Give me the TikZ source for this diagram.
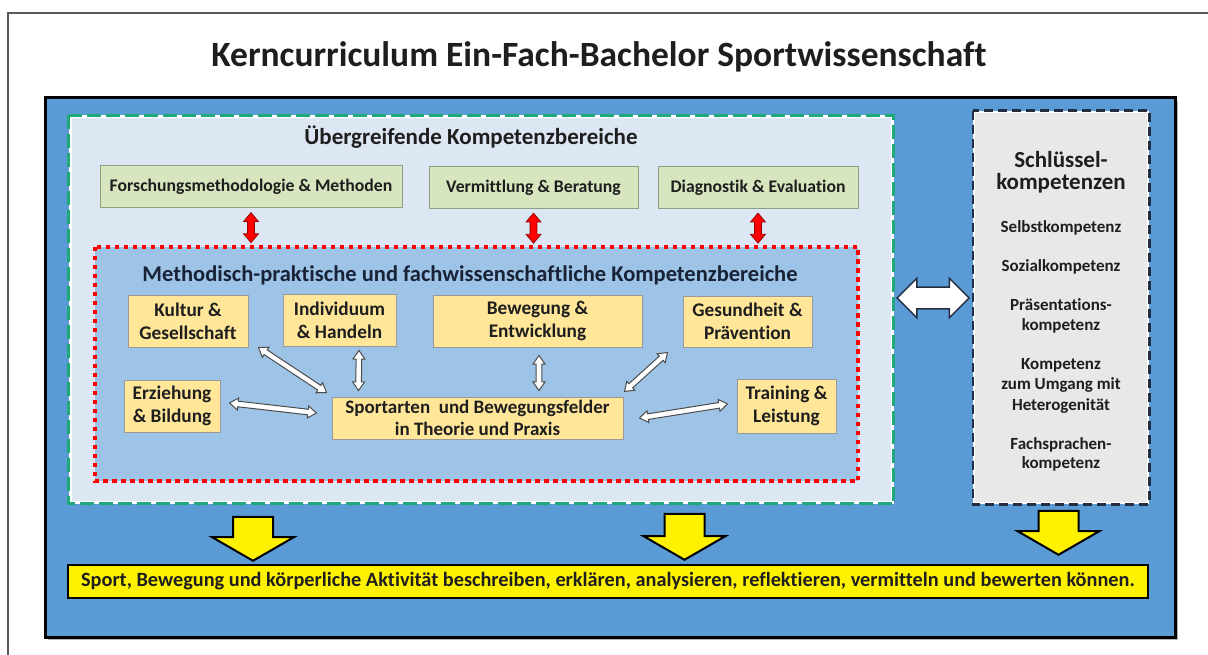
\documentclass[tikz,border=0pt]{standalone}
\usepackage{fontspec}
\setmainfont{Carlito}[Ligatures={NoCommon}]
\usetikzlibrary{arrows.meta,shapes.arrows,calc}
\definecolor{mainblue}{RGB}{91,155,213}
\definecolor{lightpane}{RGB}{221,231,243}
\definecolor{innerblue}{RGB}{157,195,230}
\definecolor{greenbox}{RGB}{215,230,190}
\definecolor{greenedge}{RGB}{140,160,130}
\definecolor{yelbox}{RGB}{255,230,153}
\definecolor{dashgreen}{RGB}{30,170,120}
\definecolor{keygray}{RGB}{232,232,232}
\definecolor{keyedge}{RGB}{35,45,65}
\definecolor{txt}{RGB}{30,30,30}
\definecolor{navytxt}{RGB}{25,35,55}
\definecolor{darkred}{RGB}{150,0,0}
\newcommand\myfs[2]{\fontsize{#1}{#2}\selectfont}
\tikzset{
  box/.style={inner sep=0pt, align=center, text=txt},
  greenb/.style={box, draw=greenedge, line width=1pt, fill=greenbox, font=\bfseries\myfs{17.7}{20}},
  yelb/.style={box, draw=gray!80, line width=1pt, fill=yelbox, font=\bfseries\myfs{19.3}{23}},
  keytxt/.style={text=txt, font=\bfseries\myfs{17}{20}, anchor=base, inner sep=0pt},
  keyhead/.style={text=txt, font=\bfseries\myfs{23}{24}, anchor=base, inner sep=0pt},
  redarr/.style={double arrow, fill=red, draw=darkred, line width=0.8pt, minimum width=0pt, inner xsep=0pt, inner ysep=3pt, double arrow head extend=4, double arrow tip angle=80, rotate=90},
  whitearr/.style={double arrow, fill=white, draw=black!70, line width=1pt, minimum width=0pt, inner xsep=0pt, inner ysep=2.3pt, double arrow head extend=3.2, double arrow tip angle=70},
  yelarr/.style={single arrow, fill=yellow, draw=black, line width=2pt, minimum width=0pt, inner xsep=0pt, inner ysep=19pt, single arrow head extend=21, single arrow tip angle=120, rotate=-90},
}
\begin{document}
\begin{tikzpicture}[x=1pt,y=-1pt]
\useasboundingbox (0,0) rectangle (1208,655);
\fill[white] (0,0) rectangle (1208,655);
\draw[gray!70!black, line width=1.5pt] (8,655) -- (8,13) -- (1208,13);

\node[font=\bfseries\myfs{35.5}{40}, text=txt, anchor=base, inner sep=0pt] (title) at (599,67) {Kerncurriculum Ein-Fach-Bachelor Sportwissenschaft};

% main blue panel
\fill[gray!60] (48,101) rectangle (1178,640);
\node[draw=black, line width=3pt, fill=mainblue, minimum width=1130, minimum height=539, inner sep=0pt] (main) at (610,367.5) {};

% green dashed pane
\node[draw=white, line width=3pt, fill=lightpane, minimum width=822, minimum height=385, inner sep=0pt] (pane) at (481,309.5) {};
\draw[dashgreen, line width=3pt, dash pattern=on 14pt off 5pt] (pane.north west) rectangle (pane.south east);
\node[font=\bfseries\myfs{23}{26}, text=txt, anchor=base, inner sep=0pt] (panetitle) at (471,145) {Übergreifende Kompetenzbereiche};

\node[greenb, minimum width=302, minimum height=42] (g1) at (251,187) {Forschungsmethodologie \& Methoden};
\node[greenb, minimum width=209, minimum height=42] (g2) at (533.5,188) {Vermittlung \& Beratung};
\node[greenb, minimum width=200, minimum height=42] (g3) at (758,188) {Diagnostik \& Evaluation};

% red dotted inner pane
\node[fill=innerblue, minimum width=763, minimum height=234, inner sep=0pt] (inner) at (476.5,364) {};
\draw[red, line width=4.5pt, dash pattern=on 4.5pt off 4.5pt] (inner.north west) rectangle (inner.south east);
\node[font=\bfseries\myfs{22.5}{26}, text=navytxt, anchor=base, inner sep=0pt] (innertitle) at (470,282) {Methodisch-praktische und fachwissenschaftliche Kompetenzbereiche};

% red connectors
\node[redarr, minimum height=30] (r1) at ($(g1.south)!0.5!(g1.south |- inner.north)$) {};
\node[redarr, minimum height=30] (r2) at ($(g2.south)!0.5!(g2.south |- inner.north)$) {};
\node[redarr, minimum height=30] (r3) at ($(g3.south)!0.5!(g3.south |- inner.north)$) {};

% yellow boxes
\node[yelb, minimum width=120, minimum height=52] (kultur) at (188,321) {Kultur \&\\Gesellschaft};
\node[yelb, minimum width=113, minimum height=52] (indiv) at (339.5,320) {Individuum\\\& Handeln};
\node[yelb, minimum width=209, minimum height=52] (beweg) at (537.5,321) {Bewegung \&\\Entwicklung};
\node[yelb, minimum width=129, minimum height=51] (gesund) at (747.5,321.5) {Gesundheit \&\\Prävention};
\node[yelb, minimum width=96, minimum height=52] (erzieh) at (172,406) {Erziehung\\\& Bildung};
\node[yelb, minimum width=291, minimum height=42, font=\bfseries\myfs{19}{22}] (sport) at (477.5,418) {Sportarten \ und Bewegungsfelder\\in Theorie und Praxis};
\node[yelb, minimum width=99, minimum height=54] (training) at (786.5,406) {Training \&\\Leistung};

% white connector end points
\coordinate (a1s) at ($(kultur.south east)+(10,0)$);
\coordinate (a1e) at ($(sport.north west)+(-5,-4)$);
\coordinate (a2s) at ($(indiv.south)+(19.5,4)$);
\coordinate (a2e) at ($(sport.north west)+(27,-6)$);
\coordinate (a3s) at ($(erzieh.east)+(9,-3)$);
\coordinate (a3e) at ($(sport.west)+(-15,-5)$);
\coordinate (a4s) at ($(beweg.south)+(1.5,8)$);
\coordinate (a4e) at ($(sport.north)+(61.5,-6)$);
\coordinate (a5s) at ($(gesund.south west)+(-15,5)$);
\coordinate (a5e) at ($(sport.north east)+(1,-5)$);
\coordinate (a6s) at ($(training.west)+(-9,-2)$);
\coordinate (a6e) at ($(sport.east)+(16,0)$);
\foreach \ps/\pe/\nm in {a1s/a1e/w1,a2s/a2e/w2,a3s/a3e/w3,a4s/a4e/w4,a5s/a5e/w5,a6s/a6e/w6}{
  \path let \p1=(\ps), \p2=(\pe), \n1={atan2(\y2-\y1,\x2-\x1)}, \n2={veclen(\x2-\x1,\y2-\y1)} in
    node[whitearr, rotate=\n1, minimum height=\n2] (\nm) at ($(\ps)!0.5!(\pe)$) {};
}

% key competences
\node[draw=white, line width=2.5pt, fill=keygray, minimum width=174, minimum height=391, inner sep=0pt] (keys) at (1061,307.5) {};
\draw[keyedge, line width=2.5pt, dash pattern=on 9pt off 5pt] (keys.north west) rectangle (keys.south east);
\node[keyhead] (k1) at (1061,168) {Schlüssel-};
\node[keyhead] (k2) at (1061,190) {kompetenzen};
\node[keytxt] (k3) at (1061,233) {Selbstkompetenz};
\node[keytxt] (k4) at (1061,272) {Sozialkompetenz};
\node[keytxt] (k5) at (1061,310) {Präsentations-};
\node[keytxt] (k6) at (1061,330) {kompetenz};
\node[keytxt] (k7) at (1061,369) {Kompetenz};
\node[keytxt] (k8) at (1061,389) {zum Umgang mit};
\node[keytxt] (k9) at (1061,410) {Heterogenität};
\node[keytxt] (k10) at (1061,449) {Fachsprachen-};
\node[keytxt] (k11) at (1061,468) {kompetenz};

% big white double arrow
\node[double arrow, fill=white, draw=keyedge, line width=1.5pt, minimum width=0pt, minimum height=72, inner xsep=0pt, inner ysep=10pt, double arrow head extend=9, double arrow tip angle=90] (link) at ($(pane.east)!0.5!(keys.west |- pane.east)+(0,-11.5)$) {};

% bottom bar
\node[draw=black, line width=2.5pt, fill=yellow, minimum width=1080, minimum height=33, inner sep=0pt, text=txt, font=\bfseries\myfs{20.3}{22}] (bar) at (608,581.5) {Sport, Bewegung und körperliche Aktivität beschreiben, erklären, analysieren, reflektieren, vermitteln und bewerten können.};

% yellow arrows
\node[yelarr, minimum height=44] (y1) at (253,533) {};
\node[yelarr, minimum height=46] (y2) at (684.5,531) {};
\node[yelarr, minimum height=44] (y3) at (1058.5,527) {};
\end{tikzpicture}
\end{document}
